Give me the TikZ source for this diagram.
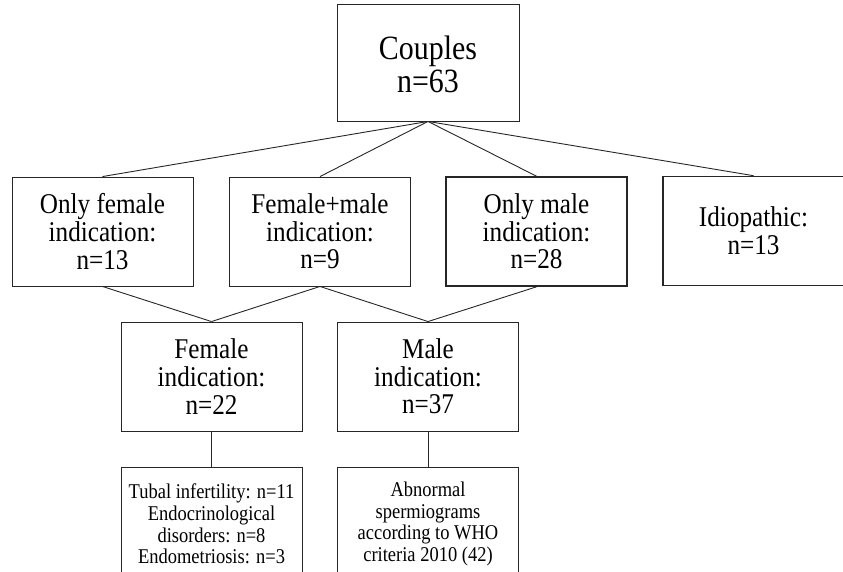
\documentclass[tikz,border=0pt]{standalone}
\usepackage{fontspec}
\setmainfont{Liberation Serif}
\newfontfamily\tallserif[FakeStretch=0.88]{Liberation Serif}
\usepackage{tikz}

\begin{document}
\begin{tikzpicture}[x=1pt,y=-1pt,
    box/.style={draw=black!85,line width=0.9pt,rectangle,align=center,inner sep=0pt,
                minimum width=181pt,minimum height=109pt},
    boldbox/.style={box,line width=1.6pt},
    bigtext/.style={font=\tallserif\fontsize{34}{33}\selectfont},
    midtext/.style={font=\tallserif\fontsize{28.6}{27.6}\selectfont},
    smalltext/.style={font=\tallserif\fontsize{21}{21.7}\selectfont}]
\useasboundingbox (0,0) rectangle (843,571);

\begin{scope}[every node/.style={box,midtext}]
    \node[bigtext,text height=60pt,minimum width=182pt,minimum height=117pt] (Couples) at (428,62.5) {Couples\\n=63};
    \node (OnlyFemale) at (102.5,231.5) {Only female\\indication:\\n=13};
    \node (FemaleMale) at (320,231.5) {Female+male\\indication:\\n=9};
    \node[boldbox] (OnlyMale) at (536.5,231.5) {Only male\\indication:\\n=28};
    \node[boldbox] (Idiopathic) at (753.5,231) {Idiopathic:\\n=13};
    \node (Female) at (211.5,376.5) {Female\\indication:\\n=22};
    \node (Male) at (428,376.5) {Male\\indication:\\n=37};
    \node[smalltext,minimum height=114pt] (FemaleCauses) at (211.5,524) {Tubal infertility: n=11\\Endocrinological\\disorders: n=8\\Endometriosis: n=3};
    \node[smalltext,minimum height=114pt] (MaleCauses) at (428,524) {Abnormal\\spermiograms\\according to WHO\\criteria 2010 (42)};
    \end{scope}

\begin{scope}[every edge/.style={draw=black!85,line width=0.9pt}]
    \path (Couples.south) edge (OnlyFemale.north);
    \path (Couples.south) edge (FemaleMale.north);
    \path (Couples.south) edge (OnlyMale.north);
    \path (Couples.south) edge (Idiopathic.north);
    \path (OnlyFemale.south) edge (Female.north);
    \path (FemaleMale.south) edge (Female.north);
    \path (FemaleMale.south) edge (Male.north);
    \path (OnlyMale.south) edge (Male.north);
    \path (Female.south) edge (FemaleCauses.north);
    \path (Male.south) edge (MaleCauses.north);
    \end{scope}

\end{tikzpicture}
\end{document}
